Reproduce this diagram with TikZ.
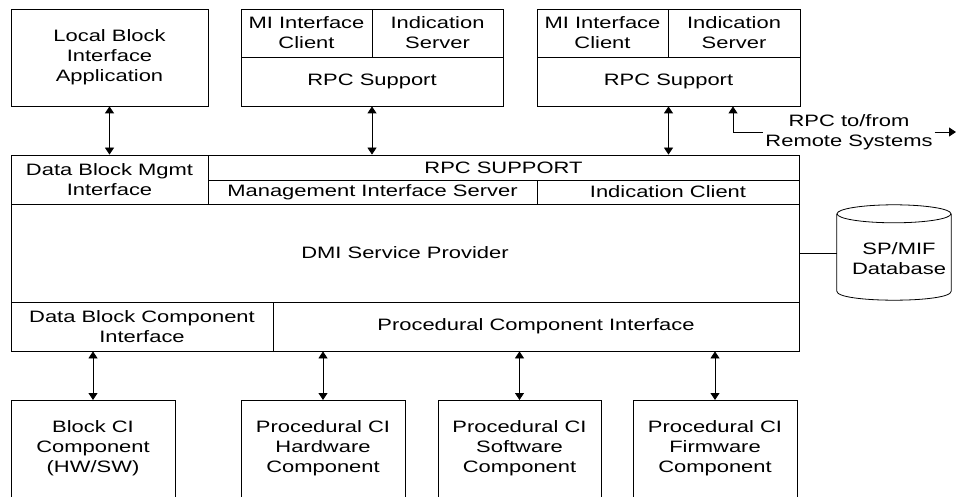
\documentclass[tikz,border=0pt]{standalone}
\usepackage{fontspec}
\setmainfont[FakeStretch=1.33]{Liberation Sans}
\usetikzlibrary{arrows.meta}
\begin{document}
\begin{tikzpicture}[x=1pt,y=-1pt,
  box/.style={draw, line width=0.8pt, inner sep=0pt, align=center, font=\fontsize{16.5}{20}\selectfont},
  lbl/.style={inner sep=2pt, align=center, font=\fontsize{16.5}{20}\selectfont},
  arr/.style={{Triangle[width=9pt,length=7pt]}-{Triangle[width=9pt,length=7pt]}, line width=0.8pt},
  arrone/.style={-{Triangle[width=9pt,length=7pt]}, line width=0.8pt},
  wire/.style={line width=0.8pt}]
\clip (0,0) rectangle (956,497);
% top boxes
\node[box, minimum width=197pt, minimum height=97pt] (local) at (109.5,57.5) {Local Block\\Interface\\Application};
\node[box, minimum width=131pt, minimum height=48pt] (mic1) at (306.5,33) {MI Interface\\Client};
\node[box, minimum width=131pt, minimum height=48pt] (is1) at (437.5,33) {Indication\\Server};
\node[box, minimum width=262pt, minimum height=49pt] (rpc1) at (372,81.5) {RPC Support};
\node[box, minimum width=131pt, minimum height=48pt] (mic2) at (602.5,33) {MI Interface\\Client};
\node[box, minimum width=132pt, minimum height=48pt] (is2) at (734,33) {Indication\\Server};
\node[box, minimum width=263pt, minimum height=49pt] (rpc2) at (668.5,81.5) {RPC Support};
% main block
\node[box, minimum width=197pt, minimum height=49pt] (dbm) at (109.5,179.5) {Data Block Mgmt\\Interface};
\node[box, minimum width=591pt, minimum height=25pt] (rpcs) at (503.5,167.5) {RPC SUPPORT};
\node[box, minimum width=329pt, minimum height=24pt] (mis) at (372.5,192) {Management Interface Server};
\node[box, minimum width=262pt, minimum height=24pt] (ic) at (668,192) {Indication Client};
\node[box, minimum width=788pt, minimum height=98pt] (dmi) at (405,253) {DMI Service Provider};
\node[box, minimum width=262pt, minimum height=49pt] (dbci) at (142,326.5) {Data Block Component\\Interface};
\node[box, minimum width=526pt, minimum height=49pt] (pci) at (536,326.5) {Procedural Component Interface};
% bottom boxes
\node[box, anchor=north, minimum width=164pt, minimum height=110pt,
  label={[lbl,yshift=7pt]center:Block CI\\Component\\(HW/SW)}] (bci) at (93,400) {};
\node[box, anchor=north, minimum width=164pt, minimum height=110pt,
  label={[lbl,yshift=7pt]center:Procedural CI\\Hardware\\Component}] (hw) at (323,400) {};
\node[box, anchor=north, minimum width=163pt, minimum height=110pt,
  label={[lbl,yshift=7pt]center:Procedural CI\\Software\\Component}] (sw) at (519.5,400) {};
\node[box, anchor=north, minimum width=164pt, minimum height=110pt,
  label={[lbl,yshift=7pt]center:Procedural CI\\Firmware\\Component}] (fw) at (715,400) {};
% database
\node[lbl, minimum width=114pt, minimum height=86pt, inner sep=0pt,
  label={[lbl,xshift=5pt,yshift=-2pt]center:SP/MIF\\Database}] (db) at (894,257) {};
\draw[wire] (db.north) ellipse [x radius=57, y radius=9];
\draw[wire] (db.north west) -- ([yshift=9pt]db.south west)
  .. controls +(0,12) and +(0,12) .. ([yshift=9pt]db.south east) -- (db.north east);
\draw[wire] (dmi.east) -- (dmi.east -| db.west);
% arrows
\draw[arr] (local.south) -- (dbm.north);
\draw[arr] (rpc1.south) -- (rpc1.south |- rpcs.north);
\draw[arr] (rpc2.south) -- (rpc2.south |- rpcs.north);
\draw[arr] (bci.north) -- (bci.north |- dbci.south);
\draw[arr] (hw.north) -- (hw.north |- pci.south);
\draw[arr] (sw.north) -- (sw.north |- pci.south);
\draw[arr] (fw.north) -- (fw.north |- pci.south);
% remote
\coordinate (remx) at (733,132);
\coordinate (remend) at (956,132);
\node[lbl] (remote) at (849,132) {RPC to/from\\Remote Systems};
\draw[arrone] (remx) -- (remx |- rpc2.south);
\draw[wire] (remx) -- (remx -| remote.west);
\draw[arrone] (remx -| remote.east) -- (remend);
\end{tikzpicture}
\end{document}
